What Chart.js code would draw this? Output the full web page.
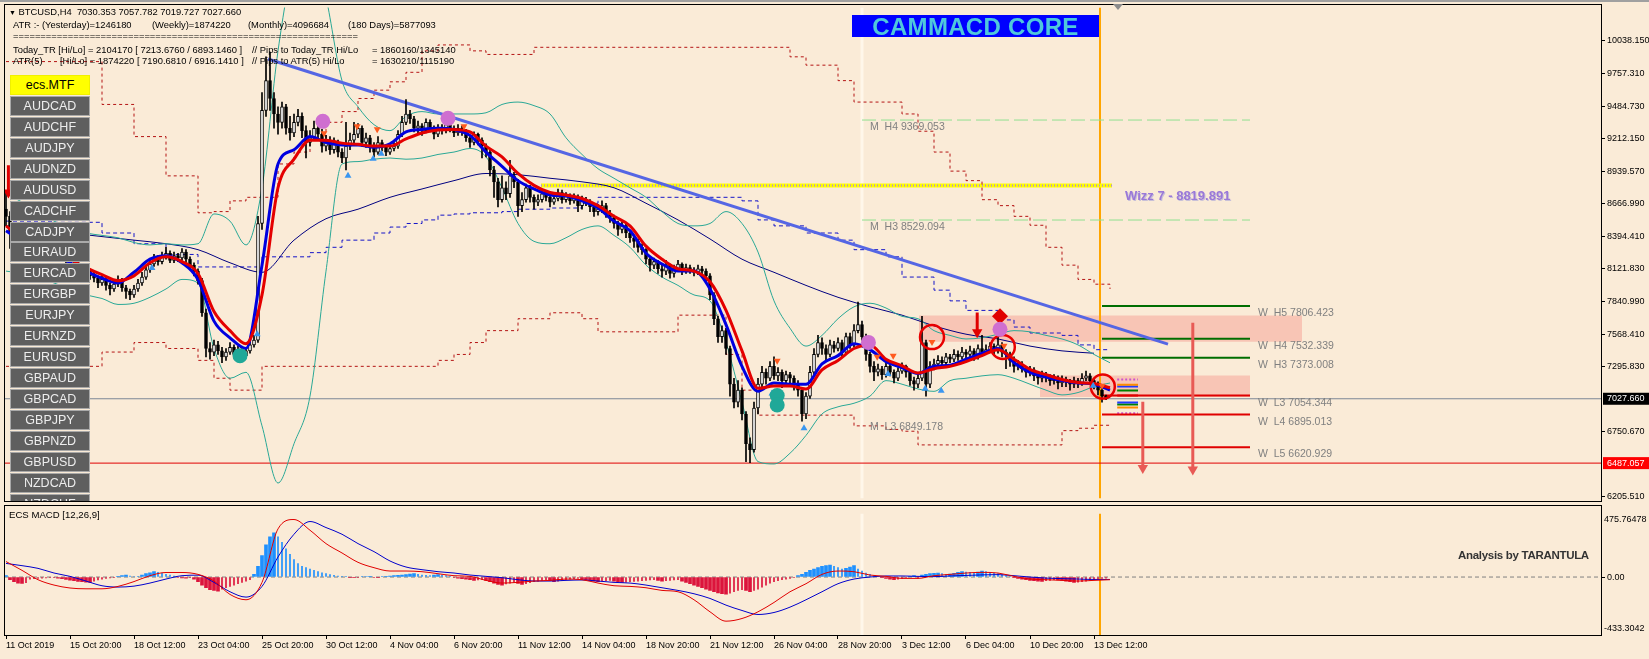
<!DOCTYPE html>
<html>
<head>
<meta charset="utf-8">
<title>BTCUSD,H4</title>
<script src="https://cdn.jsdelivr.net/npm/chart.js"></script>
<style>
  html, body { margin: 0; padding: 0; }
  body { width: 1649px; height: 659px; background: #faebd7; position: relative; overflow: hidden;
         font-family: "Liberation Sans", Arial, sans-serif; }
  canvas { position: absolute; left: 0; }
  #main { top: 0; }
  #macd { top: 506px; }
  .frame { position: absolute; border: 1px solid #000; box-sizing: border-box; pointer-events: none; }
  .txt { position: absolute; font-size: 9.4px; line-height: 12px; white-space: pre; color: #000; }
  #buttons { position: absolute; left: 10px; top: 75px; width: 80px; height: 426px; overflow: hidden; }
  .btn { position: absolute; left: 0; width: 80px; height: 20px; box-sizing: border-box; background: #5f5f5f;
         border: 1px solid #a9a9a9; color: #ededed; font-size: 12.5px; line-height: 18px; text-align: center; }
  .btn.mtf { background: #ffff00; color: #000; border-color: #f0f000; }
  #core { position: absolute; left: 852px; top: 15px; width: 247px; height: 22px; background: #0000ff; color: #4fc8dc;
          font: bold 24px "Liberation Sans", Arial, sans-serif; line-height: 23px; text-align: center; letter-spacing: 0.3px; }
  #shift { position: absolute; left: 1113px; top: 4px; width: 0; height: 0; border-left: 5px solid transparent;
           border-right: 5px solid transparent; border-top: 6px solid #8c8c8c; }
  #topbar { position: absolute; left: 0; top: 0; width: 1649px; height: 2px; background: #a0a0a0; }
  #macdTitle { position: absolute; left: 9px; top: 509px; font-size: 9.6px; color: #000; white-space: pre; }
  #tarantula { position: absolute; left: 1458px; top: 549px; font: bold 11.5px "Liberation Sans", Arial, sans-serif;
               color: #333; letter-spacing: -0.3px; white-space: pre; }
</style>
</head>
<body>
<div id="topbar"></div>
<canvas id="main" width="1649" height="506"></canvas>
<canvas id="macd" width="1649" height="153"></canvas>
<div class="frame" style="left:4px;top:4px;width:1598px;height:498px"></div>
<div class="frame" style="left:4px;top:505px;width:1598px;height:131px"></div>

<div class="txt" style="left:9px;top:6px"><span style="font-size:7px">▼</span> BTCUSD,H4  7030.353 7057.782 7019.727 7027.660</div>
<div class="txt" style="left:13px;top:19px">ATR :- (Yesterday)=1246180</div>
<div class="txt" style="left:152px;top:19px">(Weekly)=1874220</div>
<div class="txt" style="left:248px;top:19px">(Monthly)=4096684</div>
<div class="txt" style="left:348px;top:19px">(180 Days)=5877093</div>
<div class="txt" style="left:13px;top:30px">===============================================================</div>
<div class="txt" style="left:13px;top:44px">Today_TR [Hi/Lo] = 2104170 [ 7213.6760 / 6893.1460 ]</div>
<div class="txt" style="left:252px;top:44px">// Pips to Today_TR Hi/Lo</div>
<div class="txt" style="left:372px;top:44px">= 1860160/1345140</div>
<div class="txt" style="left:13px;top:55px">ATR(5)</div>
<div class="txt" style="left:60px;top:55px">[Hi/Lo] = 1874220 [ 7190.6810 / 6916.1410 ]</div>
<div class="txt" style="left:252px;top:55px">// Pips to ATR(5) Hi/Lo</div>
<div class="txt" style="left:372px;top:55px">= 1630210/1115190</div>

<div id="buttons"></div>
<div id="core">CAMMACD CORE</div>
<div id="shift"></div>
<div id="macdTitle">ECS MACD [12,26,9]</div>
<div id="tarantula">Analysis by TARANTULA</div>

<script>
// ---- data ----
const timeLabels = ["11 Oct 2019", "15 Oct 20:00", "18 Oct 12:00", "23 Oct 04:00", "25 Oct 20:00", "30 Oct 12:00",
  "4 Nov 04:00", "6 Nov 20:00", "11 Nov 12:00", "14 Nov 04:00", "18 Nov 20:00", "21 Nov 12:00",
  "26 Nov 04:00", "28 Nov 20:00", "3 Dec 12:00", "6 Dec 04:00", "10 Dec 20:00", "13 Dec 12:00"];

const priceTicks = [10038.15, 9757.31, 9484.73, 9212.15, 8939.57, 8666.99, 8394.41, 8121.83,
  7840.99, 7568.41, 7295.83, 6750.67, 6205.51];

const pairs = ["ecs.MTF", "AUDCAD", "AUDCHF", "AUDJPY", "AUDNZD", "AUDUSD", "CADCHF", "CADJPY", "EURAUD",
  "EURCAD", "EURGBP", "EURJPY", "EURNZD", "EURUSD", "GBPAUD", "GBPCAD", "GBPJPY", "GBPNZD", "GBPUSD",
  "NZDCAD", "NZDCHF"];

const firstOpen = 8620;
const closes = [
  8560, 8420, 8330, 8350, 8300, 8280, 8320, 8290, 8260, 8300, 8340, 8310, 8280, 8250, 8220, 8190,
  8150, 8170, 8120, 8080, 8100, 8060, 8040, 8000, 8030, 7980, 7950,
  7990, 8020, 7960, 7930, 7900, 7950, 8000, 8050, 8110,
  8160, 8200, 8180, 8220, 8250, 8190, 8230, 8210, 8260, 8200,
  8150, 8100, 8020, 7750, 7450,
  7420, 7480, 7430, 7380, 7420, 7460, 7400, 7440, 7390, 7430, 7480, 7520,
  8500, 9450, 9700, 9550,
  9420, 9350, 9480, 9300, 9260, 9350, 9400, 9280, 9180, 9220, 9300, 9250, 9150, 9200,
  9120, 9180, 9100, 9050, 9150, 9200, 9250, 9300, 9180, 9220, 9150, 9100, 9180, 9140, 9100, 9130, 9150,
  9250, 9350, 9420, 9380, 9300,
  9320, 9280, 9350, 9300, 9250, 9300, 9280, 9330, 9300, 9260, 9300, 9270,
  9220, 9180, 9250, 9200, 9150, 9100,
  8950, 8850, 8700, 8800,
  8750, 8900, 8850, 8650, 8700, 8800, 8720, 8680,
  8700, 8750, 8720, 8680, 8710, 8760, 8700, 8730, 8690, 8720, 8650, 8700, 8680, 8640, 8600, 8620,
  8650, 8580, 8550, 8500, 8450, 8480, 8420, 8380, 8350, 8300, 8280,
  8200, 8150, 8180, 8120, 8100, 8150, 8080, 8120, 8160, 8100, 8130, 8110, 8090, 8120, 8100, 8060,
  7900, 7700, 7550, 7600, 7450, 7150, 7000, 7100, 6900, 6650, 6600, 6950,
  7150, 7250, 7200, 7300, 7220, 7250, 7180, 7230, 7200, 7150, 7100,
  6900, 7050,
  7250, 7400, 7500, 7450, 7400, 7480, 7450, 7500, 7420, 7550, 7480, 7600, 7650, 7550,
  7400, 7300, 7250, 7280, 7230, 7300, 7250, 7200, 7260, 7300, 7250, 7180, 7150, 7200,
  7500, 7150, 7300,
  7320, 7350, 7330, 7380, 7360, 7400, 7380, 7420, 7400, 7430, 7380, 7450, 7420, 7440, 7470, 7430,
  7480, 7420, 7400, 7350, 7300, 7320,
  7280, 7250, 7270, 7220, 7200, 7230, 7210, 7180, 7200, 7160, 7190, 7170, 7150, 7180, 7160, 7200,
  7220, 7180, 7150, 7100, 7050, 7028
];
const highs = [
  8760, 8600, 8460, 8400, 8380, 8340, 8360, 8350, 8310, 8330,
  8380, 8370, 8330, 8300, 8270, 8240, 8220, 8210, 8190, 8140,
  8140, 8120, 8090, 8060, 8070, 8050, 8000, 8020, 8060, 8040,
  7980, 7950, 7980, 8030, 8090, 8150, 8200, 8240, 8230, 8260,
  8300, 8270, 8260, 8250, 8290, 8280, 8220, 8170, 8120, 8040,
  7780, 7500, 7520, 7510, 7460, 7450, 7500, 7480, 7470, 7460,
  7460, 7510, 7560, 8560, 9600, 9900, 9940, 9600, 9480, 9520,
  9500, 9400, 9420, 9460, 9430, 9320, 9280, 9360, 9340, 9290,
  9240, 9230, 9220, 9200, 9130, 9350, 9260, 9350, 9340, 9320,
  9260, 9240, 9180, 9230, 9200, 9160, 9160, 9180, 9280, 9400,
  9540, 9450, 9400, 9360, 9340, 9380, 9370, 9320, 9330, 9330,
  9370, 9360, 9320, 9330, 9320, 9290, 9240, 9270, 9260, 9220,
  9170, 9120, 8980, 8880, 8900, 8850, 9030, 8930, 8870, 8760,
  8830, 8820, 8740, 8740, 8780, 8770, 8740, 8740, 8790, 8780,
  8760, 8750, 8750, 8740, 8730, 8720, 8700, 8660, 8660, 8690,
  8670, 8610, 8570, 8520, 8510, 8500, 8440, 8400, 8370, 8330,
  8290, 8220, 8210, 8190, 8150, 8190, 8160, 8150, 8190, 8170,
  8160, 8150, 8130, 8150, 8140, 8120, 8080, 7920, 7720, 7640,
  7620, 7470, 7200, 7180, 7120, 6920, 6700, 7000, 7200, 7300,
  7280, 7340, 7380, 7290, 7270, 7260, 7250, 7220, 7180, 7120,
  7080, 7300, 7450, 7560, 7540, 7480, 7520, 7510, 7540, 7520,
  7580, 7580, 7650, 7840, 7680, 7570, 7420, 7340, 7320, 7300,
  7330, 7320, 7270, 7290, 7330, 7310, 7260, 7210, 7240, 7720,
  7520, 7340, 7360, 7390, 7380, 7410, 7400, 7440, 7430, 7460,
  7440, 7470, 7450, 7480, 7560, 7480, 7500, 7490, 7600, 7500,
  7440, 7420, 7380, 7350, 7340, 7300, 7300, 7290, 7240, 7260,
  7250, 7230, 7230, 7220, 7220, 7210, 7190, 7210, 7200, 7240,
  7260, 7240, 7200, 7170, 7120, 7058
];
const lows = [
  8480, 8290, 8300, 8300, 8270, 8240, 8250, 8260, 8220, 8240,
  8280, 8290, 8250, 8220, 8190, 8150, 8120, 8130, 8090, 8050,
  8060, 8030, 8010, 7960, 7980, 7940, 7900, 7930, 7970, 7930,
  7870, 7860, 7880, 7930, 7980, 8030, 8090, 8140, 8150, 8160,
  8200, 8170, 8170, 8180, 8190, 8170, 8120, 8060, 7990, 7720,
  7380, 7360, 7390, 7400, 7330, 7350, 7400, 7370, 7380, 7350,
  7370, 7410, 7460, 7500, 8450, 9400, 9450, 9300, 9250, 9300,
  9250, 9200, 9230, 9320, 9220, 9050, 9150, 9200, 9200, 9100,
  9110, 9080, 9090, 9060, 9010, 8950, 9120, 9170, 9220, 9150,
  9140, 9100, 9060, 9080, 9110, 9070, 9080, 9110, 9130, 9230,
  9330, 9340, 9270, 9260, 9240, 9260, 9270, 9210, 9230, 9250,
  9260, 9270, 9230, 9240, 9240, 9190, 9140, 9160, 9160, 9050,
  9060, 8900, 8720, 8640, 8680, 8700, 8720, 8800, 8560, 8600,
  8680, 8680, 8620, 8650, 8680, 8690, 8640, 8660, 8690, 8670,
  8680, 8660, 8670, 8600, 8620, 8650, 8600, 8560, 8570, 8590,
  8550, 8510, 8460, 8400, 8420, 8380, 8340, 8300, 8260, 8240,
  8160, 8100, 8120, 8080, 8050, 8070, 8040, 8050, 8100, 8070,
  8080, 8080, 8060, 8070, 8070, 8020, 7860, 7650, 7500, 7500,
  7400, 7050, 6950, 6960, 6850, 6500, 6490, 6580, 6900, 7120,
  7150, 7180, 7190, 7180, 7120, 7150, 7160, 7100, 7050, 6840,
  6860, 7030, 7220, 7380, 7400, 7350, 7380, 7420, 7430, 7380,
  7400, 7450, 7460, 7580, 7520, 7350, 7250, 7180, 7220, 7190,
  7210, 7220, 7160, 7180, 7240, 7210, 7140, 7100, 7120, 7180,
  7050, 7120, 7270, 7290, 7300, 7300, 7330, 7340, 7350, 7360,
  7370, 7380, 7350, 7360, 7400, 7400, 7420, 7400, 7410, 7380,
  7280, 7300, 7250, 7270, 7250, 7210, 7220, 7180, 7150, 7170,
  7170, 7140, 7150, 7110, 7130, 7130, 7100, 7120, 7120, 7140,
  7180, 7150, 7110, 7060, 7000, 7020
];

// indicator lines, one value every 4 bars
const redMA = [8480, 8380, 8320, 8280, 8200, 8130, 8070, 8020, 8060, 8170,
  8220, 8180, 8080, 7760, 7600, 7490, 7900, 8800, 9040, 9200,
  9200, 9175, 9165, 9150, 9150, 9210, 9260, 9285, 9290, 9270,
  9150, 9060, 8920, 8820, 8760, 8740, 8710, 8650, 8560, 8480,
  8310, 8200, 8120, 8100, 8010, 7770, 7430, 7115, 7135, 7135,
  7110, 7270, 7350, 7450, 7480, 7360, 7305, 7245, 7280, 7300,
  7340, 7390, 7440, 7360, 7275, 7230, 7190, 7165, 7155, 7120];
const blueMA = [8440, 8350, 8300, 8250, 8170, 8100, 8040, 8000, 8090, 8200,
  8230, 8170, 8030, 7680, 7540, 7450, 8150, 9000, 9120, 9230,
  9180, 9160, 9160, 9140, 9170, 9270, 9290, 9300, 9290, 9240,
  9100, 8980, 8860, 8790, 8740, 8730, 8690, 8630, 8520, 8440,
  8250, 8160, 8100, 8100, 7950, 7650, 7300, 7090, 7160, 7150,
  7150, 7320, 7390, 7490, 7440, 7340, 7290, 7240, 7300, 7310,
  7360, 7410, 7450, 7330, 7250, 7210, 7180, 7160, 7150, 7100];
const bandUpper = [8750, 8680, 8600, 8520, 8460, 8420, 8400, 8380, 8340, 8320,
  8330, 8320, 8330, 8580, 8520, 8320, 8800, 9950, 10700, 10900,
  10400, 9700, 9480, 9330, 9280, 9400, 9440, 9420, 9420, 9420,
  9430, 9500, 9520, 9490, 9420, 9220, 9080, 8960, 8880, 8800,
  8720, 8600, 8500, 8480, 8500, 8600, 8500, 8260, 7850, 7620,
  7470, 7560, 7700, 7800, 7830, 7790, 7720, 7700, 7600, 7560,
  7530, 7540, 7570, 7600, 7590, 7560, 7530, 7480, 7400, 7330];
const bandLower = [8100, 8080, 8050, 8000, 7950, 7900, 7870, 7820, 7830, 7880,
  7950, 8030, 8000, 7450, 7200, 7250, 6800, 6320, 6650, 7050,
  8100, 9000, 9020, 9040, 9050, 9040, 9050, 9080, 9100, 9130,
  9060, 8800, 8500, 8350, 8330, 8380, 8450, 8480, 8400, 8300,
  8150, 8050, 7980, 7900, 7850, 7500, 7000, 6500, 6480, 6570,
  6720, 6900, 6960, 6990, 7050, 7180, 7150, 7110, 7090, 7180,
  7200, 7220, 7230, 7200, 7150, 7100, 7060, 7080, 7130, 7160];
const envUpper = [9860, 9860, 9860, 9860, 9860, 9860, 9500, 9500, 9230, 9230,
  8900, 8900, 8590, 8600, 8690, 8720, 8720, 9000, 9100, 9200,
  9350, 9440, 9550, 9620, 9690, 9770, 9950, 10000, 10000, 9950,
  9920, 9920, 9920, 9980, 9980, 9980, 9980, 9980, 9980, 9980,
  9980, 9980, 9980, 9980, 9980, 9980, 9980, 9980, 9980, 9900,
  9830, 9830, 9700, 9520, 9520, 9520, 9420, 9275, 9100, 8940,
  8860, 8700, 8650, 8560, 8485, 8300, 8150, 8030, 7990, 7950];
const envLower = [7300, 7300, 7300, 7300, 7300, 7300, 7420, 7420, 7500, 7500,
  7450, 7450, 7350, 7200, 7100, 7100, 7300, 7300, 7300, 7300,
  7300, 7300, 7300, 7300, 7300, 7300, 7300, 7350, 7400, 7500,
  7600, 7600, 7700, 7700, 7750, 7750, 7700, 7590, 7590, 7590,
  7590, 7590, 7730, 7730, 7730, 7400, 7100, 6890, 6890, 6890,
  6890, 6890, 6890, 6800, 6800, 6770, 6755, 6640, 6640, 6640,
  6640, 6640, 6640, 6640, 6640, 6640, 6760, 6780, 6805, 6810];
const stepBlue = [8520, 8520, 8520, 8510, 8510, 8510, 8420, 8420, 8330, 8330,
  8240, 8240, 8135, 8135, 8135, 8135, 8220, 8220, 8220, 8255,
  8300, 8360, 8360, 8420, 8470, 8500, 8530, 8570, 8580, 8590,
  8590, 8600, 8620, 8620, 8630, 8630, 8670, 8720, 8720, 8720,
  8720, 8720, 8720, 8720, 8720, 8720, 8690, 8530, 8480, 8480,
  8420, 8420, 8360, 8280, 8280, 8220, 8050, 8050, 7940, 7850,
  7770, 7770, 7690, 7630, 7580, 7580, 7560, 7480, 7440, 7440];
// long average, one value every 8 bars
const navyMA = [8480, 8450, 8420, 8390, 8360, 8330, 8280, 8170, 8090, 8360,
  8540, 8620, 8720, 8790, 8860, 8920, 8910, 8880, 8850, 8800,
  8670, 8530, 8370, 8200, 8090, 7980, 7880, 7800, 7730, 7640,
  7570, 7530, 7470, 7430, 7410];

const trendLine = [[65.5, 9882], [290.5, 7487]];
const wizzLevel = 8819.891;
const monthlyNames = ["H4", "H3", "L3"];
const monthlyValues = [9369.053, 8529.094, 6849.178];
const weeklyNames = ["H5", "H4", "H3", "L3", "L4", "L5"];
const weeklyValues = [7806.423, 7532.339, 7373.008, 7054.344, 6895.013, 6620.929];
const zoneTops = [7728, 7223];
const zoneBottoms = [7507, 7043];
const lastPrice = 7027.66;
const alertPrice = 6487.057;
const sessionColors = ["#cc55cc", "#ff8c00", "#1e3cff", "#008000", "#e00000", "#1e3cff", "#008000", "#ff8c00", "#cc55cc"];
const sessionValues = [7190, 7146, 7130, 7097, 7055, 6997, 6980, 6955, 6905];

const purpleDots = [[79.2, 9358], [110.5, 9383], [215.6, 7501], [248.5, 7612]];
const tealDots = [[58.5, 7390], [192.8, 7055], [192.8, 6975]];
const downArrows = [[79.5, 9258], [87.8, 9316], [92.8, 9291], [114.5, 9316], [192.8, 7348], [217.8, 7380],
  [221.8, 7390], [231.5, 7505], [249.5, 7472], [274, 7137]];
const upArrows = [[36.5, 8127], [62.8, 7570], [85.5, 8900], [91.8, 9043], [93.8, 9085], [191.5, 7072],
  [199.5, 6780], [220.5, 7236], [229.8, 7111], [233.8, 7095], [271.8, 7137]];
const ringMarks = [[231.5, 7546], [249.2, 7463], [274.2, 7130]];
const signalArrows = [[0.6, 8990, 8760], [242.8, 7752, 7586]];
const targetArrows = [[284.2, 7002, 6447], [296.7, 7667, 6433]];
const diamondMark = [248.5, 7720];

const macdHist = [
  10, -20, -35, -45, -48, -42,
  -15, -12, -10, -8, -6, -5, -4,
  -8, -12, -18, -24, -28, -32, -35, -38, -40,
  -30, -22, -15, -10, -6, -3,
  5, 10, 15, 8, 4, 2,
  15, 25, 32, 40,
  35, 28, 20, 14, 8,
  -3, -6, -8, -5,
  -15, -35, -60, -80, -95, -100, -105,
  -90, -80, -70, -60, -50, -40, -30, -20,
  20, 80, 160, 240, 300, 330,
  300, 260, 210, 170, 130, 100, 80,
  70, 60, 50, 40, 32, 25, 18, 12, 8, 5, 3,
  -3, -5, -4, 2, 4, 6, -2, -4, 3, 5, 8, 10,
  12, 15, 18, 22, 25, 20, 15, 12, 10, 14, 18, 15, 10, 6,
  -5, -8, -12, -15, -20, -25, -22, -18, -25, -35,
  -45, -55, -60, -52, -45, -40, -48, -55, -50, -42, -35, -30,
  -25, -20, -28, -35, -30, -25, -20, -15, -12, -10, -15, -20,
  -25, -30, -35, -30, -28, -25, -30, -35, -40, -38, -35, -32, -30, -28, -25, -22, -20, -25, -30, -28, -25, -22, -20,
  -30, -40, -50, -60, -70, -80, -90, -100, -110, -118, -125, -128, -120, -110, -100, -95, -100, -110, -100,
  -90, -75, -60, -45, -35, -28, -20, -15, -10, -5,
  10, 20, 35, 50, 60, 70, 80, 85, 90, 80, 70, 60, 65, 75, 85, 60, 45, 30, 20,
  10, 5, -5, -10, -15, -20, -15, -10, -5, 5, 10, -8, 15,
  20, 25, 28, 30, 25, 20, 22, 28, 35, 40, 38, 35, 30,
  38, 45, 40, 35, 30, 25, 18, 10, 5,
  -5, -10, -15, -20, -25, -28, -30, -32, -28, -25, -20, -22, -25, -30, -35, -40, -38, -35, -30, -25, -20, -15, -10, -8
];
const macdMain = [116, 50, -20, -60, -82, -88, -88, -70, -34, 10,
  34, 34, 20, -30, -130, -170, -40, 360, 430, 350,
  250, 180, 110, 70, 45, 45, 40, 25, 10, 5,
  -25, -45, -40, -30, -25, -15, -20, -45, -65, -70,
  -80, -100, -110, -170, -260, -330, -310, -260, -190, -110,
  -50, 20, 45, 40, 15, 5, -10, -10, 10, 20,
  30, 35, 30, 5, -15, -20, -25, -30, -25, -20];
const macdSignal = [102, 85, 65, 30, 5, -30, -65, -75, -68, -45,
  -15, 10, 14, -40, -110, -150, -70, 150, 320, 415,
  370, 320, 250, 190, 120, 75, 55, 40, 30, 15,
  5, -5, -20, -30, -30, -25, -22, -30, -40, -45,
  -60, -80, -100, -125, -160, -210, -250, -280, -265, -225,
  -170, -110, -50, -15, 0, 8, 8, 5, 3, 8,
  12, 16, 18, 10, 0, -8, -12, -15, -18, -18];
const macdRange = [-433.3042, 475.76478];

// ---- layout constants ----
const STEP = 4, NAVY_STEP = 8, LABEL_EVERY = 16;
const X_MIN = -0.25, X_MAX = 398.75;
const Y_MIN = 6189.0, Y_MAX = 10315.2;
const NOW_BAR = 273.5, SEP_BAR = 214;
const FONT = '"Liberation Sans", Arial, sans-serif';

// buttons
const box = document.getElementById('buttons');
pairs.forEach((p, i) => {
  const d = document.createElement('div');
  d.className = 'btn' + (i === 0 ? ' mtf' : '');
  d.style.top = (i * 20.93) + 'px';
  d.textContent = p;
  box.appendChild(d);
});

// ---- helpers ----
const sampled = (arr, step) => arr.map((v, k) => ({ x: k * step, y: v }));
const flat = (x0, x1, v) => [{ x: x0, y: v }, { x: x1, y: v }];
const pts = arr => arr.map(([x, y]) => ({ x, y }));
function line(data, color, width, extra) {
  return Object.assign({ type: 'line', data, borderColor: color, borderWidth: width,
    pointRadius: 0, fill: false, tension: 0 }, extra || {});
}
function marks(data, extra) {
  return Object.assign({ type: 'line', data, showLine: false, pointBorderWidth: 0 }, extra);
}
function arrow([b, top, bottom], col) {
  return line([{ x: b, y: top }, { x: b, y: bottom }], col, 3, {
    pointStyle: 'triangle', pointRotation: 180, pointRadius: c => c.dataIndex === 1 ? 6 : 0,
    pointBackgroundColor: col, pointBorderWidth: 0, order: 1 });
}

// ---- main panel ----
const candles = closes.map((c, i) => ({ i, o: i === 0 ? firstOpen : closes[i - 1], h: highs[i], l: lows[i], c }));

const mainSets = [];
mainSets.push(marks(pts(purpleDots), { pointRadius: 7.5, pointBackgroundColor: '#cf6fd0', order: 0 }));
mainSets.push(marks(pts(tealDots), { pointRadius: 7.5, pointBackgroundColor: '#20a898', order: 0 }));
mainSets.push(marks(pts(downArrows), { pointStyle: 'triangle', pointRotation: 180, pointRadius: 4,
  pointBackgroundColor: '#ff5a1e', order: 0 }));
mainSets.push(marks(pts(upArrows), { pointStyle: 'triangle', pointRadius: 4,
  pointBackgroundColor: '#3a96f0', order: 0 }));
mainSets.push(marks(pts(ringMarks), { pointRadius: 12, pointBackgroundColor: 'rgba(0,0,0,0)',
  pointBorderColor: '#e80000', pointBorderWidth: 2.5, order: 0 }));
mainSets.push(marks([{ x: diamondMark[0], y: diamondMark[1] }], { pointStyle: 'rectRot', pointRadius: 8,
  pointBackgroundColor: '#e00000', order: 0 }));
signalArrows.forEach(a => mainSets.push(arrow(a, '#e00000')));
targetArrows.forEach(a => mainSets.push(arrow(a, '#e85a55')));
mainSets.push(line(sampled(redMA, STEP), '#e40000', 3, { cubicInterpolationMode: 'monotone', order: 2 }));
mainSets.push(line(sampled(blueMA, STEP), '#0000e0', 3, { cubicInterpolationMode: 'monotone', order: 3 }));
mainSets.push({ type: 'bar', data: candles.map(b => ({ x: b.i, y: [b.o, b.c] })), barThickness: 3, grouped: false,
  minBarLength: 1, borderColor: '#000', borderWidth: 1, borderSkipped: false,
  backgroundColor: c => candles[c.dataIndex].c >= candles[c.dataIndex].o ? '#ffffff' : '#000000', order: 4 });
mainSets.push({ type: 'bar', data: candles.map(b => ({ x: b.i, y: [b.l, b.h] })), barThickness: 1, grouped: false,
  backgroundColor: '#000', borderWidth: 0, order: 5 });
mainSets.push(line(pts(trendLine), '#5566e4', 3, { order: 6 }));
mainSets.push(line(sampled(bandUpper, STEP), '#2aa896', 1, { cubicInterpolationMode: 'monotone', order: 7 }));
mainSets.push(line(sampled(bandLower, STEP), '#2aa896', 1, { cubicInterpolationMode: 'monotone', order: 7 }));
mainSets.push(line(sampled(navyMA, NAVY_STEP), '#000080', 1, { cubicInterpolationMode: 'monotone', order: 7 }));
mainSets.push(line(sampled(stepBlue, STEP), '#1414c8', 1, { stepped: true, borderDash: [4, 3], order: 7 }));
mainSets.push(line(sampled(envUpper, STEP), '#b41414', 1, { stepped: true, borderDash: [3, 3], order: 7 }));
mainSets.push(line(sampled(envLower, STEP), '#b41414', 1, { stepped: true, borderDash: [3, 3], order: 7 }));
weeklyValues.forEach((v, i) => {
  mainSets.push(line(flat(274, 311, v), weeklyNames[i][0] === 'H' ? '#006e00' : '#e00000', 2, { order: 8 }));
});
monthlyValues.forEach((v, i) => {
  if (monthlyNames[i][0] === 'H') mainSets.push(line(flat(214, 311, v), '#90e090', 1, { borderDash: [14, 5], order: 8 }));
});
sessionValues.forEach((v, i) => {
  const dashed = i === 0 || i === sessionValues.length - 1;
  mainSets.push(line(flat(277.8, 283, v), sessionColors[i], 2, { borderDash: dashed ? [2, 2] : [], order: 8 }));
});
mainSets.push(line(flat(133.75, 276.5, wizzLevel), '#b088e0', 2, { borderDash: [1, 2], order: 8 }));
mainSets.push(line(flat(133.75, 276.5, wizzLevel), '#ffff00', 4, { order: 9 }));
mainSets.push(line(flat(X_MIN, X_MAX, lastPrice), '#7d8796', 1, { order: 9 }));
mainSets.push(line(flat(X_MIN, X_MAX, alertPrice), '#e00000', 1, { order: 9 }));
mainSets.push(line([{ x: NOW_BAR, y: Y_MIN }, { x: NOW_BAR, y: Y_MAX }], '#ffa500', 2, { order: 10 }));
mainSets.push(line([{ x: SEP_BAR, y: Y_MIN }, { x: SEP_BAR, y: Y_MAX }], '#fff7ea', 3, { order: 10 }));
mainSets.push(line(flat(228.25, 324, zoneTops[0]), 'rgba(0,0,0,0)', 0,
  { fill: { value: zoneBottoms[0] }, backgroundColor: 'rgba(247,188,172,0.8)', order: 11 }));
mainSets.push(line(flat(258.5, 311, zoneTops[1]), 'rgba(0,0,0,0)', 0,
  { fill: { value: zoneBottoms[1] }, backgroundColor: 'rgba(247,188,172,0.8)', order: 11 }));

const mainLabels = {
  id: 'mainLabels',
  afterDatasetsDraw(chart) {
    const { ctx, scales: { x, y } } = chart;
    ctx.save();
    ctx.font = '10.5px ' + FONT;
    ctx.fillStyle = '#808080';
    ctx.textBaseline = 'top';
    weeklyNames.forEach((n, i) => {
      ctx.fillText('W  ' + n + ' ' + weeklyValues[i].toFixed(3), x.getPixelForValue(313), y.getPixelForValue(weeklyValues[i]) + 2);
    });
    monthlyNames.forEach((n, i) => {
      ctx.fillText('M  ' + n + ' ' + monthlyValues[i].toFixed(3), x.getPixelForValue(216), y.getPixelForValue(monthlyValues[i]) + 2);
    });
    ctx.font = 'bold 13px ' + FONT;
    ctx.textBaseline = 'middle';
    const wx = x.getPixelForValue(279.75), wy = y.getPixelForValue(wizzLevel) + 11;
    ctx.fillStyle = '#c8c0d8';
    ctx.fillText('Wizz 7 - ' + wizzLevel.toFixed(3), wx + 1, wy + 1);
    ctx.fillStyle = '#9a78d8';
    ctx.fillText('Wizz 7 - ' + wizzLevel.toFixed(3), wx, wy);
    ctx.restore();
  },
  afterDraw(chart) {
    const { ctx, scales: { y }, chartArea } = chart;
    ctx.save();
    ctx.font = '9px ' + FONT;
    ctx.textBaseline = 'middle';
    [[lastPrice, '#000000'], [alertPrice, '#ff0000']].forEach(([v, bg]) => {
      const py = y.getPixelForValue(v);
      ctx.fillStyle = bg;
      ctx.fillRect(chartArea.right + 2, py - 6, 50, 12);
      ctx.fillStyle = '#ffffff';
      ctx.fillText(v.toFixed(3), chartArea.right + 6, py);
    });
    ctx.restore();
  }
};

Chart.defaults.font.family = FONT;
Chart.defaults.font.size = 9;
Chart.defaults.color = '#000';

new Chart(document.getElementById('main'), {
  type: 'line',
  data: { datasets: mainSets },
  options: {
    responsive: false, animation: false, events: [],
    layout: { padding: { left: 5, top: 5, right: 0, bottom: 5 }, autoPadding: false },
    plugins: { legend: { display: false }, tooltip: { enabled: false } },
    scales: {
      x: { type: 'linear', min: X_MIN, max: X_MAX, offset: false, display: false },
      y: {
        type: 'linear', position: 'right', min: Y_MIN, max: Y_MAX,
        afterFit: s => { s.width = 48; },
        afterBuildTicks: s => { s.ticks = priceTicks.map(v => ({ value: v })); },
        ticks: { autoSkip: false, padding: 2, callback: v => Number(v).toFixed(3) },
        grid: { drawOnChartArea: false, tickLength: 4, color: '#000' },
        border: { display: false }
      }
    }
  },
  plugins: [mainLabels]
});

// ---- MACD panel ----
const thick = [], thin = [];
macdHist.forEach((v, i) => {
  const prev = i ? macdHist[i - 1] : 0;
  (Math.abs(v) >= Math.abs(prev) ? thick : thin).push({ x: i, y: v });
});
const histColor = c => c.raw.y >= 0 ? '#1e90ff' : '#dc143c';
const macdSets = [
  line(sampled(macdMain, STEP), '#e00000', 1, { cubicInterpolationMode: 'monotone', order: 0 }),
  line(sampled(macdSignal, STEP), '#0000cc', 1, { cubicInterpolationMode: 'monotone', order: 1 }),
  { type: 'bar', data: thick, barThickness: 3, grouped: false, backgroundColor: histColor, borderWidth: 0, order: 2 },
  { type: 'bar', data: thin, barThickness: 1, grouped: false, backgroundColor: histColor, borderWidth: 0, order: 2 },
  line(flat(X_MIN, X_MAX, 0), '#808080', 1, { borderDash: [4, 3], order: 3 }),
  line([{ x: NOW_BAR, y: macdRange[0] }, { x: NOW_BAR, y: macdRange[1] }], '#ffa500', 2, { order: 4 }),
  line([{ x: SEP_BAR, y: macdRange[0] }, { x: SEP_BAR, y: macdRange[1] }], '#fff7ea', 3, { order: 4 })
];

const macdLabels = {
  id: 'macdLabels',
  afterDraw(chart) {
    const { ctx, chartArea } = chart;
    ctx.save();
    ctx.font = '9px ' + FONT;
    ctx.fillStyle = '#000';
    ctx.textBaseline = 'middle';
    ctx.fillText(macdRange[1].toFixed(5), chartArea.right + 3, chartArea.top + 6);
    ctx.fillText(macdRange[0].toFixed(4), chartArea.right + 3, chartArea.bottom - 6);
    ctx.restore();
  }
};

new Chart(document.getElementById('macd'), {
  type: 'line',
  data: { datasets: macdSets },
  options: {
    responsive: false, animation: false, events: [],
    layout: { padding: { left: 5, top: 0, right: 0, bottom: 0 }, autoPadding: false },
    plugins: { legend: { display: false }, tooltip: { enabled: false } },
    scales: {
      x: {
        type: 'linear', min: X_MIN, max: X_MAX, offset: false,
        afterFit: s => { s.height = 24; },
        afterBuildTicks: s => { s.ticks = timeLabels.map((t, k) => ({ value: k * LABEL_EVERY })); },
        ticks: { autoSkip: false, maxRotation: 0, align: 'start', padding: 1,
          callback: v => timeLabels[Math.round(v / LABEL_EVERY)] },
        grid: { drawOnChartArea: false, tickLength: 4, color: '#000', offset: false },
        border: { display: false }
      },
      y: {
        type: 'linear', position: 'right', min: macdRange[0], max: macdRange[1],
        afterFit: s => { s.width = 48; },
        afterBuildTicks: s => { s.ticks = [{ value: 0 }]; },
        ticks: { padding: 2, callback: () => '0.00' },
        grid: { drawOnChartArea: false, tickLength: 4, color: '#000' },
        border: { display: false }
      }
    }
  },
  plugins: [macdLabels]
});
</script>
</body>
</html>
